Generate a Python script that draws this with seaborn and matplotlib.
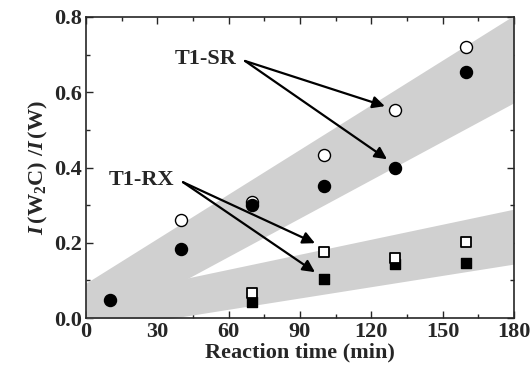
import numpy as np
import pandas as pd
import matplotlib
matplotlib.use('Agg')
import matplotlib.pyplot as plt
import seaborn as sns
from matplotlib.ticker import MultipleLocator

sns.set_style('ticks')
plt.rcParams['font.family'] = ['Liberation Serif', 'DejaVu Serif']
plt.rcParams['font.weight'] = 'bold'
plt.rcParams['mathtext.fontset'] = 'custom'
plt.rcParams['mathtext.rm'] = 'Liberation Serif:bold'
plt.rcParams['mathtext.it'] = 'Liberation Serif:italic:bold'
plt.rcParams['mathtext.bf'] = 'Liberation Serif:bold'

# data
t_sr = [10, 40, 70, 100, 130, 160]
sr_filled = [0.048, 0.183, 0.300, 0.351, 0.400, 0.655]
t_sr_open = [40, 70, 100, 130, 160]
sr_open = [0.260, 0.309, 0.433, 0.553, 0.721]
t_rx = [70, 100, 130, 160]
rx_open = [0.066, 0.176, 0.159, 0.201]
rx_filled = [0.043, 0.103, 0.145, 0.146]

# shaded bands (edge lines: intercept, slope)
band_x = [0, 180]
sr_band_top = (0.093, 0.00395)
sr_band_bot = (-0.040, 0.00340)
rx_band_top = (0.050, 0.00133)
rx_band_bot = (-0.0365, 0.00100)

FS = 16

fig = plt.figure(figsize=(5.32, 3.76), dpi=100)
ax = fig.add_axes([0.1617, 0.154, 0.8043, 0.801])

xs = np.array(band_x, dtype=float)
band_col = '#d0d0d0'
ax.fill_between(xs, sr_band_bot[0] + sr_band_bot[1] * xs, sr_band_top[0] + sr_band_top[1] * xs,
                color=band_col, lw=0, zorder=1)
ax.fill_between(xs, rx_band_bot[0] + rx_band_bot[1] * xs, rx_band_top[0] + rx_band_top[1] * xs,
                color=band_col, lw=0, zorder=1)

sns.scatterplot(x=t_sr_open, y=sr_open, marker='o', s=75, facecolor='white',
                edgecolor='black', linewidth=1.0, ax=ax, zorder=3)
sns.scatterplot(x=t_sr, y=sr_filled, marker='o', s=75, color='black',
                edgecolor='black', linewidth=1.0, ax=ax, zorder=4)
sns.scatterplot(x=t_rx, y=rx_filled, marker='s', s=58, color='black',
                edgecolor='black', linewidth=1.0, ax=ax, zorder=5)
sns.scatterplot(x=t_rx, y=rx_open, marker='s', s=58, facecolor='white',
                edgecolor='black', linewidth=1.3, ax=ax, zorder=6)

arrow = dict(arrowstyle='-|>', color='black', lw=1.6, mutation_scale=18,
             shrinkA=0, shrinkB=0)
for xy in [(125.7, 0.563), (126.6, 0.422)]:
    ax.annotate('', xy=xy, xytext=(66.9, 0.683), arrowprops=arrow, zorder=7)
for xy in [(96.3, 0.199), (96.3, 0.122)]:
    ax.annotate('', xy=xy, xytext=(40.8, 0.361), arrowprops=arrow, zorder=7)
ax.text(63.5, 0.688, 'T1-SR', ha='right', va='center', fontsize=FS, fontweight='bold')
ax.text(37.0, 0.366, 'T1-RX', ha='right', va='center', fontsize=FS, fontweight='bold')

ax.set_xlim(0, 180)
ax.set_ylim(0, 0.8)
ax.xaxis.set_major_locator(MultipleLocator(30))
ax.xaxis.set_minor_locator(MultipleLocator(15))
ax.yaxis.set_major_locator(MultipleLocator(0.2))
ax.yaxis.set_minor_locator(MultipleLocator(0.1))
ax.yaxis.set_major_formatter(matplotlib.ticker.FormatStrFormatter('%.1f'))
ax.tick_params(which='both', direction='in', top=True, right=True, width=1.0)
ax.tick_params(which='major', length=5, labelsize=FS, pad=3)
ax.tick_params(which='minor', length=3)
for lab in ax.get_xticklabels() + ax.get_yticklabels():
    lab.set_fontweight('bold')
for sp in ax.spines.values():
    sp.set_linewidth(1.2)
    sp.set_zorder(10)

ax.set_xlabel('Reaction time (min)', fontsize=FS, fontweight='bold', labelpad=0)
ax.set_ylabel(r'$\mathit{I}\,\mathrm{(W_2C)\ /}\mathit{I}\,\mathrm{(W)}$', fontsize=FS, labelpad=3)

fig.savefig('out.png', dpi=100)
